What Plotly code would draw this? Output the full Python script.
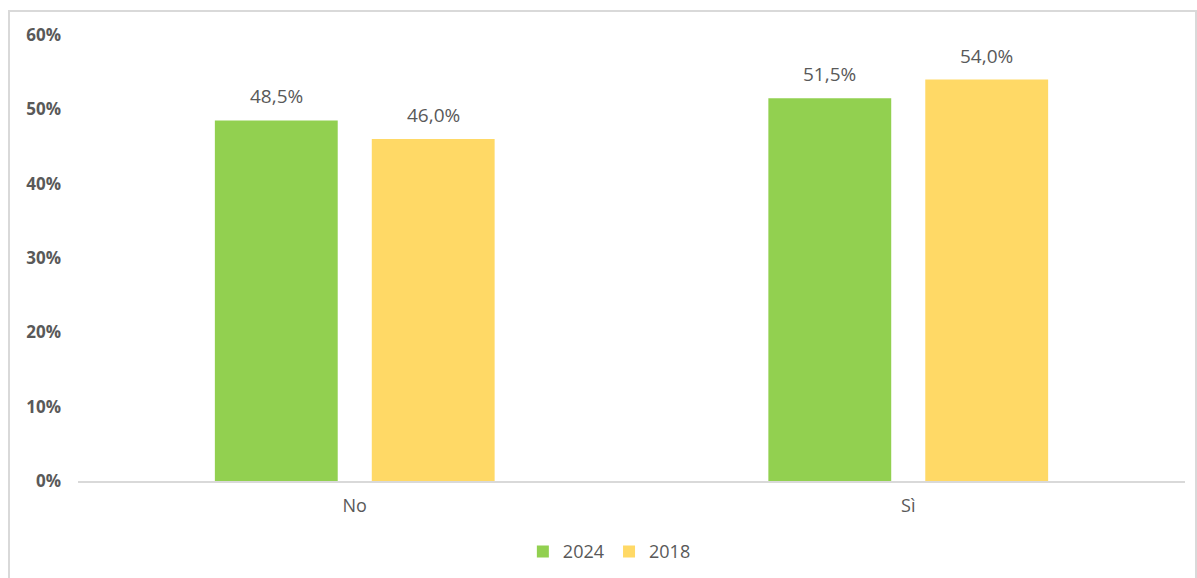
import plotly.graph_objects as go

categories = ["No", "Sì"]
values_2024 = [48.5, 51.5]
values_2018 = [46.0, 54.0]
series_names = ["2024", "2018"]
tick_values = [0, 10, 20, 30, 40, 50, 60]
tick_labels = ["0%", "10%", "20%", "30%", "40%", "50%", "60%"]

GREEN = "#92D050"
YELLOW = "#FFD966"
TEXT = "#595959"
FONT = "Open Sans"
BARGAP, BARGROUPGAP = 0.433, 0.217

fig = go.Figure()
series = [(series_names[0], values_2024, GREEN), (series_names[1], values_2018, YELLOW)]
for name, vals, color in series:
    fig.add_trace(go.Bar(
        x=categories, y=vals, name=name,
        marker=dict(color=color, line=dict(width=0)),
    ))

# value labels above each bar, offset to the bar's slot within its group
slot = (1 - BARGAP) / len(series)
annotations = []
for k, (name, vals, color) in enumerate(series):
    offset = (k - (len(series) - 1) / 2) * slot
    for i, v in enumerate(vals):
        annotations.append(dict(
            x=i + offset, y=v, xref="x", yref="y",
            text=f"{v:.1f}%".replace(".", ","), showarrow=False,
            yanchor="bottom", yshift=9,
            font=dict(family=FONT, size=19, color=TEXT),
        ))

L, R, T, B = 78, 12, 35, 97
W, H = 1197, 578
pw, ph = W - L - R, H - T - B

fig.update_layout(
    width=W, height=H,
    margin=dict(l=L, r=R, t=T, b=B, autoexpand=False),
    paper_bgcolor="white", plot_bgcolor="white",
    barmode="group", bargap=BARGAP, bargroupgap=BARGROUPGAP,
    font=dict(family=FONT, color=TEXT),
    showlegend=True,
    legend=dict(orientation="h", x=0.48, xanchor="center", y=-0.117, yanchor="top",
                font=dict(family=FONT, size=18, color=TEXT),
                itemwidth=30, tracegroupgap=0),
    xaxis=dict(showline=True, linecolor="#D9D9D9", linewidth=1.5,
               ticks="", tickfont=dict(family=FONT, size=18, color=TEXT),
               ticklabelstandoff=8, automargin=False,
               showgrid=False, zeroline=False),
    yaxis=dict(range=[0, 60], tickmode="array", tickvals=tick_values, ticktext=tick_labels,
               showgrid=False, zeroline=False, showline=False, ticks="",
               tickfont=dict(family=FONT, size=17, color=TEXT, weight="bold"),
               ticklabelstandoff=16, automargin=False),
    annotations=annotations,
    shapes=[dict(type="rect", xref="paper", yref="paper",
                 x0=(9 - L) / pw, x1=(1196 - L) / pw,
                 y0=-(H + 20 - T - ph) / ph, y1=1 + (T - 11) / ph,
                 line=dict(color="#D9D9D9", width=2), fillcolor="rgba(0,0,0,0)",
                 layer="below")],
)

fig.write_html("out.html")
